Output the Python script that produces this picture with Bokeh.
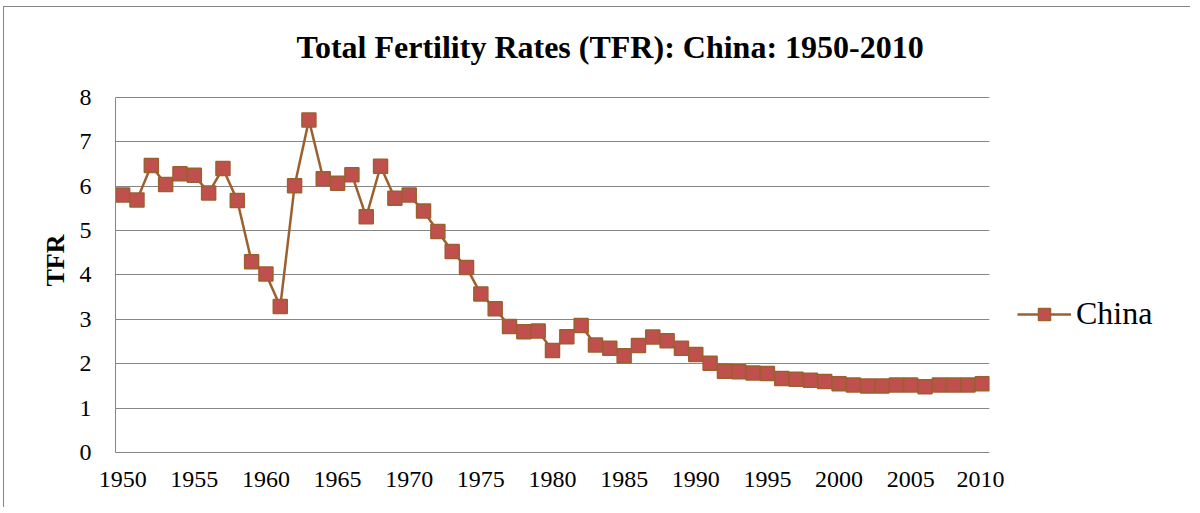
from bokeh.plotting import figure
from bokeh.layouts import row
from bokeh.models import Range1d, FixedTicker, Legend, LegendItem, Title
from bokeh.embed import file_html
from bokeh.resources import INLINE

years = list(range(1950, 2011))
tfr = [5.80, 5.69, 6.47, 6.04, 6.28, 6.25, 5.85, 6.40, 5.68, 4.30,
       4.02, 3.29, 6.01, 7.49, 6.17, 6.07, 6.26, 5.31, 6.45, 5.73,
       5.80, 5.44, 4.98, 4.53, 4.17, 3.57, 3.24, 2.84, 2.72, 2.74,
       2.30, 2.61, 2.86, 2.42, 2.35, 2.18, 2.41, 2.60, 2.52, 2.35,
       2.21, 2.01, 1.83, 1.82, 1.79, 1.78, 1.67, 1.65, 1.63, 1.60,
       1.55, 1.52, 1.50, 1.50, 1.52, 1.52, 1.48, 1.52, 1.52, 1.52,
       1.55]
series_name = "China"
title_text = "Total Fertility Rates (TFR): China: 1950-2010"
y_label = "TFR"
x_ticks = list(range(1950, 2011, 5))
y_ticks = list(range(0, 9))

FONT = "Liberation Serif"
GRID = "#868686"
LINE = "#9C5F2E"
FILL = "#C0504D"

# main chart (frame extends a little above 8 so the title can sit higher;
# the axis line itself is bounded to 0..8)
p = figure(width=1000, height=500, output_backend="svg", toolbar_location=None,
           x_range=Range1d(1949.5, 2010.5), y_range=Range1d(0, 8.653),
           min_border_left=111, min_border_top=61, min_border_right=15,
           min_border_bottom=55, title=None)
p.outline_line_color = None
p.background_fill_color = "white"
p.border_fill_color = "white"

t = Title(text=title_text, align="left", text_font=FONT, text_font_size="32px",
          text_font_style="bold", text_color="black", offset=181, standoff=8)
p.add_layout(t, "above")

p.xgrid.grid_line_color = None
p.ygrid.grid_line_color = GRID
p.ygrid.grid_line_width = 1

for ax in (p.xaxis[0], p.yaxis[0]):
    ax.axis_line_color = GRID
    ax.major_tick_line_color = None
    ax.minor_tick_line_color = None
    ax.major_label_text_font = FONT
    ax.major_label_text_font_size = "24px"
    ax.major_label_text_color = "black"

p.xaxis.ticker = FixedTicker(ticks=x_ticks)
p.yaxis.ticker = FixedTicker(ticks=y_ticks)
p.yaxis.bounds = (0, 8)
p.xaxis.major_label_standoff = 13
p.yaxis.major_label_standoff = 18
p.yaxis.axis_label = y_label
p.yaxis.axis_label_text_font = FONT
p.yaxis.axis_label_text_font_size = "26px"
p.yaxis.axis_label_text_font_style = "bold"
p.yaxis.axis_label_text_color = "black"
p.yaxis.axis_label_standoff = 7

p.line(years, tfr, line_color=LINE, line_width=2.5)
p.scatter(years, tfr, marker="square", size=14, fill_color=FILL,
          line_color=LINE, line_width=1.5)

# legend panel (its renderers lie outside its view, only the legend shows)
q = figure(width=186, height=500, output_backend="svg", toolbar_location=None,
           x_range=Range1d(0, 1), y_range=Range1d(0, 1),
           min_border_left=0, min_border_top=0, min_border_right=0,
           min_border_bottom=0, title=None,
           x_axis_location=None, y_axis_location=None)
q.xgrid.grid_line_color = None
q.ygrid.grid_line_color = None
q.outline_line_color = None
q.background_fill_color = "white"
q.border_fill_color = "white"
ln2 = q.line(years, tfr, line_color=LINE, line_width=2.5)
mk2 = q.scatter(years, tfr, marker="square", size=14, fill_color=FILL,
                line_color=LINE, line_width=1.5)
legend = Legend(items=[LegendItem(label=series_name, renderers=[ln2, mk2])],
                location=(13, 120), border_line_color=None,
                background_fill_alpha=0, label_text_font=FONT,
                label_text_font_size="32px", label_text_color="black",
                glyph_width=54, glyph_height=30, label_height=30,
                label_standoff=5, margin=0, padding=0)
q.add_layout(legend, "center")

layout = row(p, q, spacing=0)
layout.margin = (6, 0, 0, 3)
layout.styles = {"border-top": "1px solid #868686", "border-left": "1px solid #868686"}

open("out.html", "w").write(file_html(layout, INLINE))
